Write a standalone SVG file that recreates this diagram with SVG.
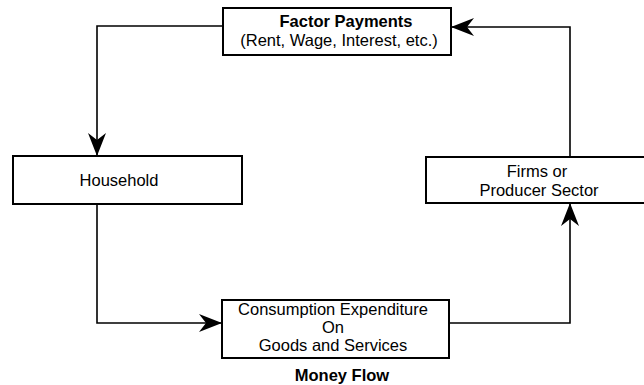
<svg xmlns="http://www.w3.org/2000/svg" width="644" height="385" viewBox="0 0 644 385">
  <style>
    .box { fill: #fff; stroke: #000; stroke-width: 2; }
    .t { font-family: "Liberation Sans", Arial, sans-serif; font-size: 16.5px; fill: #000; text-anchor: middle; }
    .b { font-weight: bold; }
    .conn { fill: none; stroke: #000; stroke-width: 1.6; }
  </style>
  <defs>
    <marker id="arr" markerUnits="userSpaceOnUse" markerWidth="26" markerHeight="20" refX="23" refY="10" orient="auto">
      <path d="M0,1 L23,10 L0,19 L7,10 z" fill="#000"/>
    </marker>
  </defs>
  <rect width="644" height="385" fill="#fff"/>
  <g id="connectors">
    <path class="conn" d="M223 26 H97 V156" marker-end="url(#arr)"/>
    <path class="conn" d="M97 204 V323 H222" marker-end="url(#arr)"/>
    <path class="conn" d="M449 323 H570 V203" marker-end="url(#arr)"/>
    <path class="conn" d="M570 157 V27 H451" marker-end="url(#arr)"/>
  </g>
  <g id="factor-payments">
    <rect class="box" x="223" y="8" width="228" height="47"/>
    <text class="t b" x="346" y="27">Factor Payments</text>
    <text class="t" x="339" y="46">(Rent, Wage, Interest, etc.)</text>
  </g>
  <g id="household">
    <rect class="box" x="13" y="156" width="229" height="48"/>
    <text class="t" x="119" y="186">Household</text>
  </g>
  <g id="firms">
    <rect class="box" x="426" y="157" width="220" height="46"/>
    <text class="t" x="537" y="177">Firms or</text>
    <text class="t" x="539" y="196">Producer Sector</text>
  </g>
  <g id="consumption">
    <rect class="box" x="222" y="300" width="227" height="58"/>
    <text class="t" x="333" y="315">Consumption Expenditure</text>
    <text class="t" x="333" y="333">On</text>
    <text class="t" x="333" y="351">Goods and Services</text>
  </g>
  <g id="caption">
    <text class="t b" x="342" y="381">Money Flow</text>
  </g>
</svg>
